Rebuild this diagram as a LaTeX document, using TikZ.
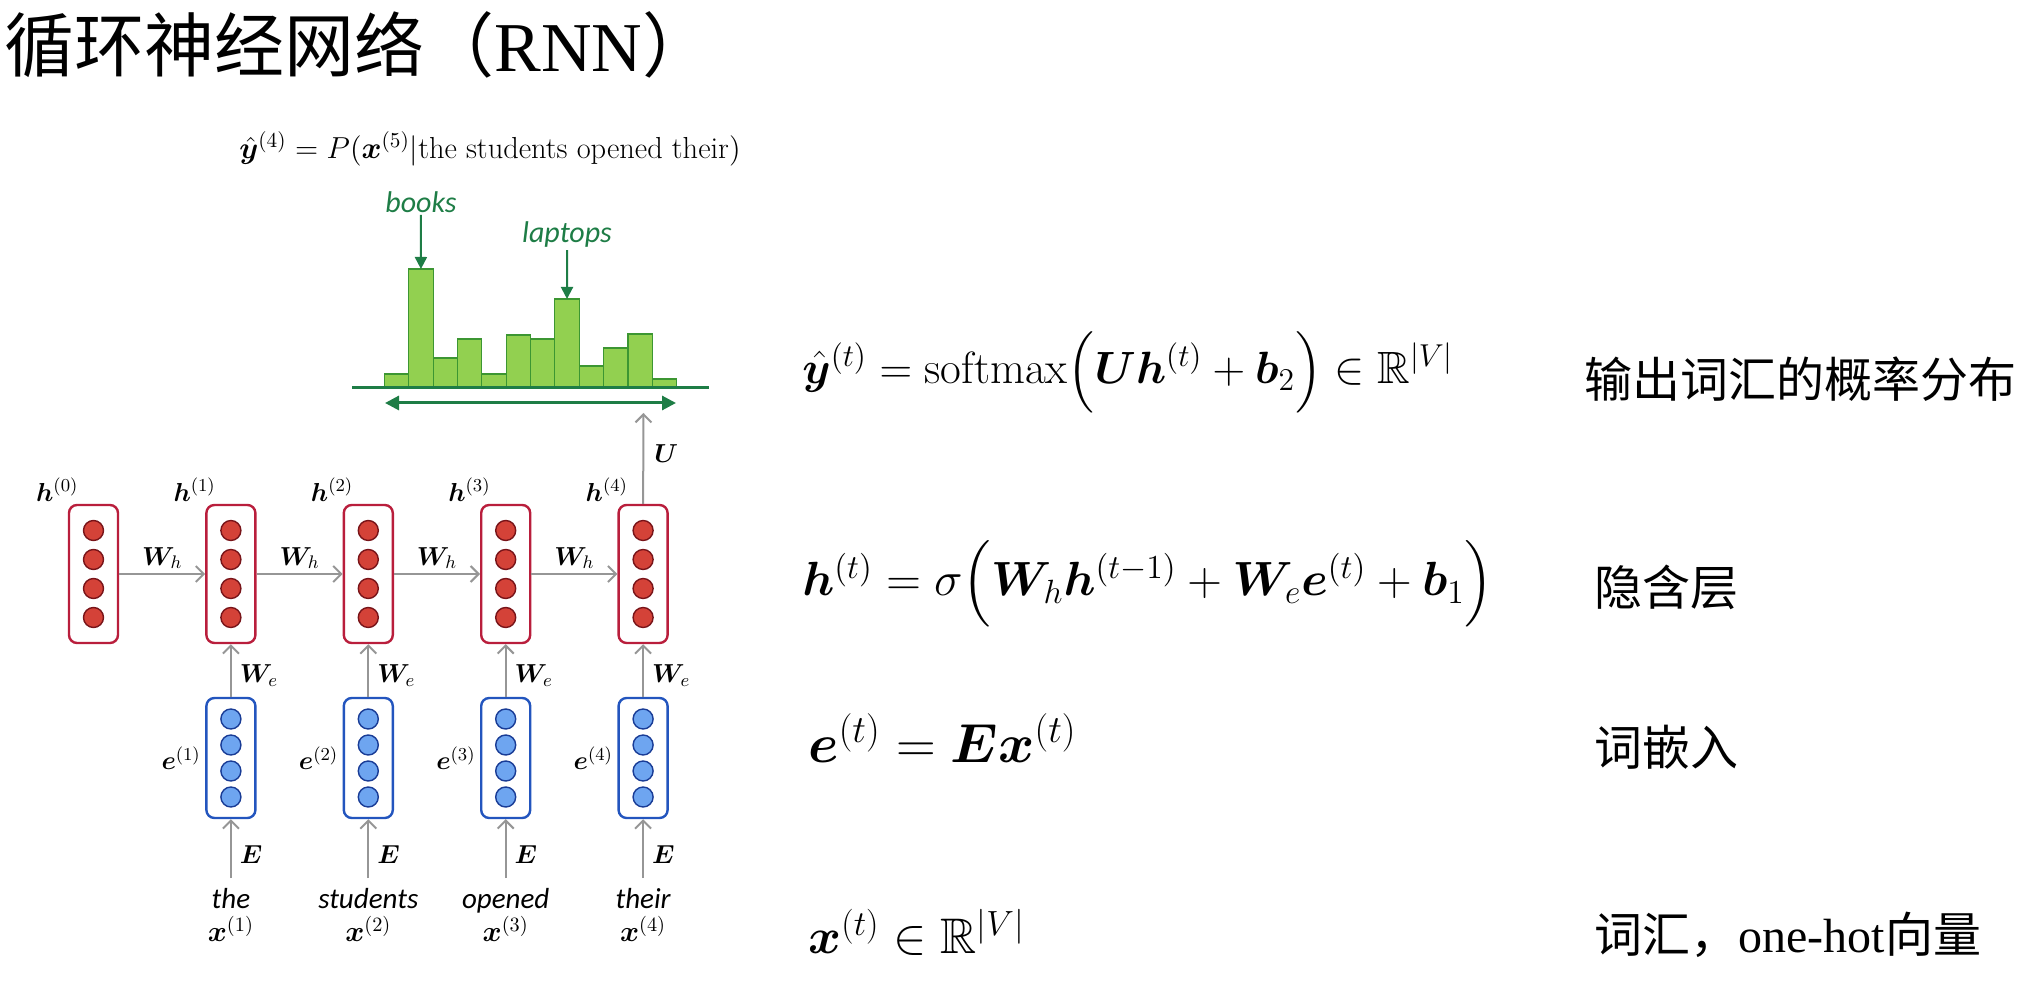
\documentclass[tikz,border=0pt]{standalone}
\usepackage{fix-cm}
\usepackage{amsmath,amssymb,bm}
\usepackage{fontspec}
\newfontfamily\cjk{Noto Sans CJK SC}
\newfontfamily\cali{Carlito}
\newfontfamily\tnr{Liberation Serif}
\usetikzlibrary{arrows.meta, positioning, calc}

\definecolor{hidred}{RGB}{185,30,60}
\definecolor{hidfill}{RGB}{212,66,56}
\definecolor{hiddark}{RGB}{120,20,25}
\definecolor{embblue}{RGB}{35,85,190}
\definecolor{embfill}{RGB}{110,165,240}
\definecolor{embdark}{RGB}{25,60,150}
\definecolor{arrowgray}{RGB}{150,150,150}
\definecolor{darkgreen}{RGB}{30,125,70}
\definecolor{barfill}{RGB}{146,208,80}
\definecolor{barline}{RGB}{60,150,50}

\tikzset{
    hbox/.style={rectangle, rounded corners=4pt, draw=hidred, line width=1.2pt, fill=white, minimum width=24.5pt, minimum height=69pt, inner sep=0pt},
    ebox/.style={rectangle, rounded corners=4pt, draw=embblue, line width=1.2pt, fill=white, minimum width=24.5pt, minimum height=60pt, inner sep=0pt},
    hunit/.style={circle, draw=hiddark, fill=hidfill, line width=0.7pt, minimum size=10pt, inner sep=0pt},
    eunit/.style={circle, draw=embdark, fill=embfill, line width=0.7pt, minimum size=10pt, inner sep=0pt},
    lab/.style={font=\fontsize{13}{16}\selectfont, inner sep=1pt},
    word/.style={align=center, font=\fontsize{14.5}{16.5}\selectfont, inner xsep=0pt, inner ysep=5pt},
    gword/.style={font=\cali\itshape\fontsize{15}{18}\selectfont, text=darkgreen, inner sep=1pt},
    eq/.style={anchor=west, inner sep=0pt},
    desc/.style={anchor=west, font=\cjk\fontsize{24}{28}\selectfont, inner sep=0pt},
    bar/.style={draw=barline, fill=barfill, line width=0.6pt},
    rnnarrow/.style={draw=arrowgray, line width=1pt, -{Straight Barb[length=4pt,width=8pt]}},
    greenarrow/.style={draw=darkgreen, line width=1pt, -{Triangle[length=6pt,width=6pt]}}
}

\begin{document}
\begin{tikzpicture}[x=0.5pt, y=-0.5pt]
        \useasboundingbox (0,0) rectangle (2036,983);

        % 标题
        \node (titulo) [anchor=west, inner sep=0pt, font=\fontsize{35}{40}\selectfont] at (4,45) {{\cjk 循环神经网络（}{\tnr RNN}{\cjk ）}};

        % 隐含层 h
        \node (h0) [hbox] at (93.5,574) {};
        \node (h1) [hbox, right=43pt of h0] {};
        \node (h2) [hbox, right=43pt of h1] {};
        \node (h3) [hbox, right=43pt of h2] {};
        \node (h4) [hbox, right=43pt of h3] {};

        % 词嵌入 e
        \node (e1) [ebox, below=26.3pt of h1] {};
        \node (e2) [ebox, below=26.3pt of h2] {};
        \node (e3) [ebox, below=26.3pt of h3] {};
        \node (e4) [ebox, below=26.3pt of h4] {};

        % 神经元
        \foreach \b in {h0,h1,h2,h3,h4}
            \foreach \k [count=\c] in {-43.5,-14.5,14.5,43.5}
                \node (\b u\c) [hunit] at ($(\b)+(0,\k)$) {};
        \foreach \b in {e1,e2,e3,e4}
            \foreach \k [count=\c] in {-39,-13,13,39}
                \node (\b u\c) [eunit] at ($(\b)+(0,\k)$) {};

        % 标签
        \node (lh0) [lab, above left=0pt and -6.5pt of h0.north west] {$\bm h^{(0)}$};
        \node (lh1) [lab, above left=0pt and -6.5pt of h1.north west] {$\bm h^{(1)}$};
        \node (lh2) [lab, above left=0pt and -6.5pt of h2.north west] {$\bm h^{(2)}$};
        \node (lh3) [lab, above left=0pt and -6.5pt of h3.north west] {$\bm h^{(3)}$};
        \node (lh4) [lab, above left=0pt and -6.5pt of h4.north west] {$\bm h^{(4)}$};
        \node (le1) [lab, left=1pt of e1] {$\bm e^{(1)}$};
        \node (le2) [lab, left=1pt of e2] {$\bm e^{(2)}$};
        \node (le3) [lab, left=1pt of e3] {$\bm e^{(3)}$};
        \node (le4) [lab, left=1pt of e4] {$\bm e^{(4)}$};

        % 输入词
        \node (w1) [word, below=29.5pt of e1] {{\cali\itshape the}\\$\bm x^{(1)}$};
        \node (w2) [word, below=29.5pt of e2] {{\cali\itshape students}\\$\bm x^{(2)}$};
        \node (w3) [word, below=29.5pt of e3] {{\cali\itshape opened}\\$\bm x^{(3)}$};
        \node (w4) [word, below=29.5pt of e4] {{\cali\itshape their}\\$\bm x^{(4)}$};

        % 连接
        \draw [rnnarrow] (h0.east) -- node[lab, above=1pt] (wh1) {$\bm W_h$} (h1.west);
        \draw [rnnarrow] (h1.east) -- node[lab, above=1pt] (wh2) {$\bm W_h$} (h2.west);
        \draw [rnnarrow] (h2.east) -- node[lab, above=1pt] (wh3) {$\bm W_h$} (h3.west);
        \draw [rnnarrow] (h3.east) -- node[lab, above=1pt] (wh4) {$\bm W_h$} (h4.west);
        \draw [rnnarrow] (e1.north) -- node[lab, right=3pt, pos=0.4] (we1) {$\bm W_e$} (h1.south);
        \draw [rnnarrow] (e2.north) -- node[lab, right=3pt, pos=0.4] (we2) {$\bm W_e$} (h2.south);
        \draw [rnnarrow] (e3.north) -- node[lab, right=3pt, pos=0.4] (we3) {$\bm W_e$} (h3.south);
        \draw [rnnarrow] (e4.north) -- node[lab, right=3pt, pos=0.4] (we4) {$\bm W_e$} (h4.south);
        \draw [rnnarrow] (w1.north) -- node[lab, right=3pt, pos=0.4] (em1) {$\bm E$} (e1.south);
        \draw [rnnarrow] (w2.north) -- node[lab, right=3pt, pos=0.4] (em2) {$\bm E$} (e2.south);
        \draw [rnnarrow] (w3.north) -- node[lab, right=3pt, pos=0.4] (em3) {$\bm E$} (e3.south);
        \draw [rnnarrow] (w4.north) -- node[lab, right=3pt, pos=0.4] (em4) {$\bm E$} (e4.south);

        % 输出分布
        \node (yhat4) [font=\fontsize{15.2}{18}\selectfont, inner sep=0pt] at (490,149) {$\hat{\bm y}^{(4)} = P(\bm x^{(5)}|\text{the students opened their})$};
        \foreach \v [count=\c] in {14,119,30,49,14,53,49,89,22,40,54,9} {
            \draw [bar] ({384.4+(\c-1)*24.35},388) rectangle ++(24.35,-\v);
            \coordinate (bar\c) at ({384.4+(\c-0.5)*24.35},388-\v);
        }
        \draw [darkgreen, line width=1.5pt] (352,388) -- (709,388);
        \coordinate (vl) at (385,403);
        \coordinate (vr) at (676,403);
        \draw [greenarrow, line width=1.5pt, {Triangle[length=7pt,width=7pt]}-{Triangle[length=7pt,width=7pt]}] (vl) -- (vr);
        \node (books) [gword] at (421,202) {books};
        \node (laptops) [gword] at (567,235) {laptops};
        \draw [greenarrow] (books) -- (bar2);
        \draw [greenarrow] (laptops) -- (bar8);
        \coordinate (uend) at (643.5,413);
        \draw [rnnarrow] (h4.north) -- node[lab, right=4pt, pos=0.55] (ulab) {$\bm U$} (uend);

        % 公式
        \node (eqy) [eq, font=\fontsize{22.6}{26}\selectfont] at (802,372) {$\hat{\bm y}^{(t)} = \mathrm{softmax}\Big(\bm U\bm h^{(t)} + \bm b_2\Big) \in \mathbb{R}^{|V|}$};
        \node (eqh) [eq, font=\fontsize{24}{28}\selectfont] at (802,584) {$\bm h^{(t)} = \sigma\Big(\bm W_h\bm h^{(t-1)} + \bm W_e\bm e^{(t)} + \bm b_1\Big)$};
        \node (eqe) [eq, font=\fontsize{27.5}{32}\selectfont] at (808,738) {$\bm e^{(t)} = \bm E\bm x^{(t)}$};
        \node (eqx) [eq, font=\fontsize{25}{30}\selectfont] at (808,932) {$\bm x^{(t)} \in \mathbb{R}^{|V|}$};

        % 说明
        \node (descy) [desc] at (1584,379) {输出词汇的概率分布};
        \node (desch) [desc] at (1594,587) {隐含层};
        \node (desce) [desc] at (1594,747) {词嵌入};
        \node (descx) [desc] at (1594,935) {词汇，{\tnr one-hot}向量};

\end{tikzpicture}
\end{document}
